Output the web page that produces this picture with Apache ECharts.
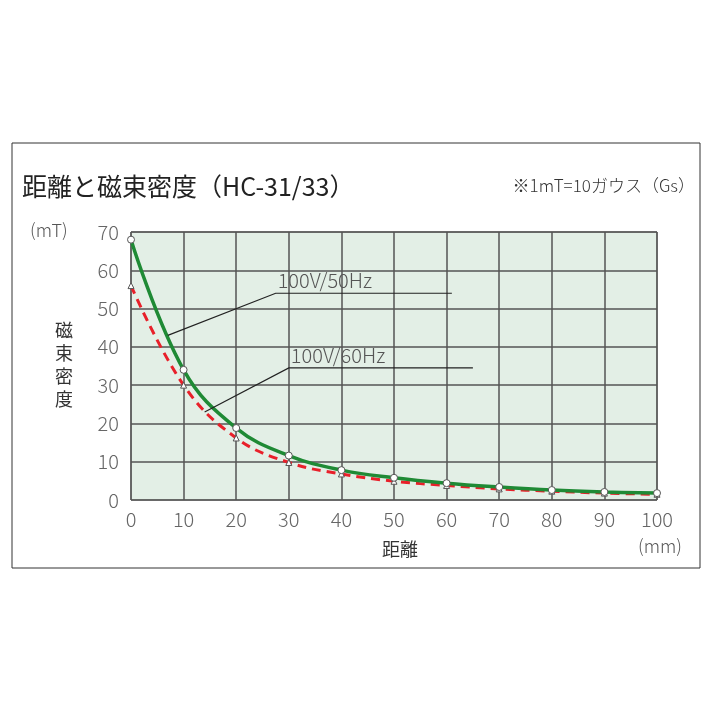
<!DOCTYPE html>
<html><head><meta charset="utf-8">
<script src="https://cdn.jsdelivr.net/npm/echarts@6/dist/echarts.min.js"></script>
<style>html,body{margin:0;background:#fff}#main{width:713px;height:713px}</style>
</head><body><div id="main"></div>
<script>
// distance (mm) and flux density (mT)
var dist = [0, 10, 20, 30, 40, 50, 60, 70, 80, 90, 100];
var hz50 = [68, 34, 18.8, 11.6, 7.8, 5.8, 4.4, 3.4, 2.6, 2.1, 1.8];
var hz60 = [56, 30, 16.2, 9.8, 6.8, 4.9, 3.8, 2.9, 2.3, 1.8, 1.5];

var font = '"Noto Sans CJK JP", sans-serif';
var chart = echarts.init(document.getElementById('main'));

function pairs(ys) { return dist.map(function (x, i) { return [x, ys[i]]; }); }

chart.setOption({
  animation: false,
  textStyle: {fontFamily: font},
  grid: {left: 131, right: 56, top: 232, bottom: 213, show: true,
    backgroundColor: '#e3efe6', borderColor: '#555', borderWidth: 1},
  xAxis: {type: 'value', min: 0, max: 100, interval: 10,
    axisLine: {show: false}, axisTick: {show: false},
    axisLabel: {color: '#666', fontSize: 20, fontWeight: 300, margin: 9, fontFamily: font},
    splitLine: {lineStyle: {color: '#555', width: 1.5}}},
  yAxis: {type: 'value', min: 0, max: 70, interval: 10,
    axisLine: {show: false}, axisTick: {show: false},
    axisLabel: {color: '#666', fontSize: 20, fontWeight: 300, margin: 12, fontFamily: font},
    splitLine: {lineStyle: {color: '#555', width: 1.5}}},
  series: [
    {type: 'line', data: pairs(hz60), smooth: 0.4, symbol: 'triangle', symbolSize: 6,
      itemStyle: {color: '#fff', borderColor: '#555', borderWidth: 1},
      lineStyle: {color: '#e8202a', width: 3, type: [9, 6]}, z: 3},
    {type: 'line', data: pairs(hz50), smooth: 0.4, symbol: 'circle', symbolSize: 7,
      itemStyle: {color: '#fff', borderColor: '#555', borderWidth: 1},
      lineStyle: {color: '#1f8a35', width: 3.5}, z: 4}
  ]
});

function px(x, y) { return chart.convertToPixel({gridIndex: 0}, [x, y]); }
function leader(a, b, c, label) {
  var p1 = px(a[0], a[1]), p2 = px(b[0], b[1]), p3 = px(c[0], c[1]);
  return [
    {type: 'polyline', shape: {points: [p1, p2, p3]}, style: {stroke: '#222', lineWidth: 1.2, fill: null}, z: 10},
    {type: 'text', x: p2[0] + 2, y: p2[1] - 3, style: {text: label, fill: '#555', font: '300 20px ' + font, textVerticalAlign: 'bottom'}, z: 10}
  ];
}

chart.setOption({
  graphic: [
    {type: 'rect', shape: {x: 12, y: 143, width: 688, height: 425}, style: {fill: null, stroke: '#333', lineWidth: 1}},
    {type: 'text', x: 22, y: 186, style: {text: '距離と磁束密度（HC-31/33）', fill: '#222', font: '25px ' + font, textVerticalAlign: 'middle'}},
    {type: 'text', x: 695, y: 186, style: {text: '※1mT=10ガウス（Gs）', fill: '#333', font: '300 17px ' + font, textAlign: 'right', textVerticalAlign: 'middle'}},
    {type: 'text', x: 30, y: 230, style: {text: '(mT)', fill: '#555', font: '300 18px ' + font, textVerticalAlign: 'middle'}},
    {type: 'text', x: 64, y: 365, style: {text: '磁\n束\n密\n度', fill: '#333', font: '18px ' + font, lineHeight: 23, textAlign: 'center', textVerticalAlign: 'middle'}},
    {type: 'text', x: 400, y: 549, style: {text: '距離', fill: '#333', font: '18px ' + font, textAlign: 'center', textVerticalAlign: 'middle'}},
    {type: 'text', x: 660, y: 546, style: {text: '(mm)', fill: '#555', font: '300 18px ' + font, textAlign: 'center', textVerticalAlign: 'middle'}}
  ].concat(leader([7, 43], [27.5, 54], [61, 54], '100V/50Hz'))
   .concat(leader([14, 23], [30, 34.5], [65, 34.5], '100V/60Hz'))
});
</script></body></html>
